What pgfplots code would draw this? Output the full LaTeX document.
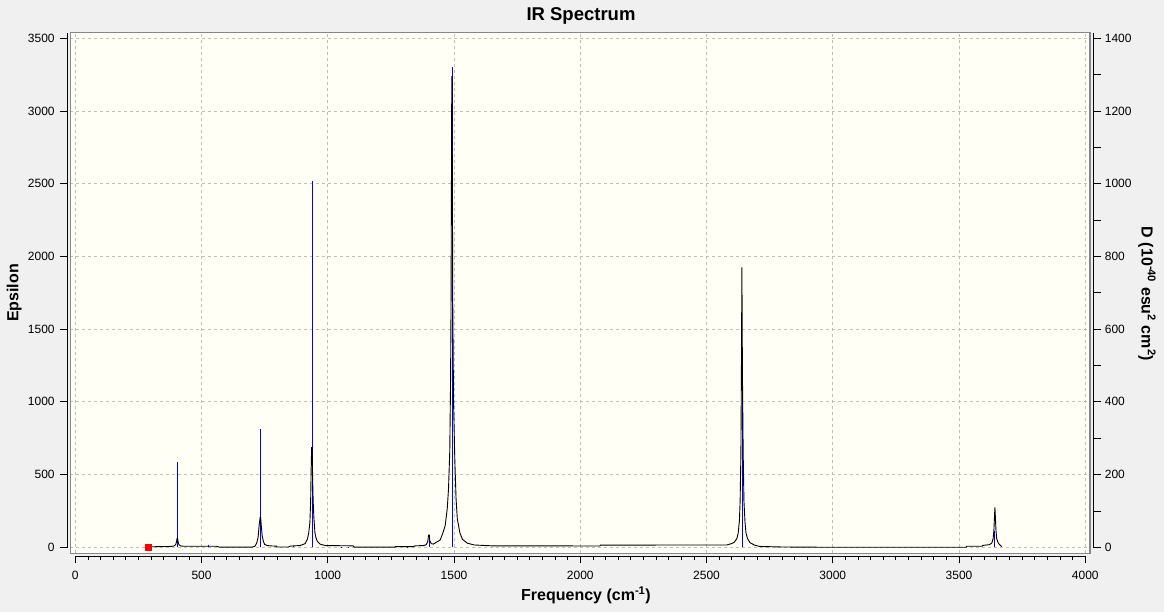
\documentclass[border=0pt]{standalone}
\usepackage{pgfplots}
\pgfplotsset{compat=1.18}
\usepackage{fontspec}
\setmainfont{Liberation Sans}
\definecolor{winbg}{RGB}{240,240,240}
\definecolor{plotbg}{RGB}{255,255,245}
\definecolor{framegray}{RGB}{130,135,145}
\definecolor{gridgray}{RGB}{190,190,190}
\definecolor{stickblue}{RGB}{0,0,255}
\begin{document}
\begin{tikzpicture}
\fill[winbg] (0,0) rectangle (1164pt,612pt);
% ---- frame, grid and sticks (D units, right scale) ----
\begin{axis}[
  at={(70.3pt,58.7pt)}, anchor=south west, scale only axis,
  width=1019.7pt, height=520.6pt,
  xmin=-19.8, xmax=4018.6, ymin=-16.5, ymax=1415.4,
  xtick={0,500,...,4000}, ytick={0,200,...,1400},
  xticklabels={}, yticklabels={},
  tick style={draw=none},
  grid=major,
  major grid style={gridgray, line width=0.9pt, dash pattern=on 3pt off 3pt},
  axis background/.style={fill=plotbg},
  axis line style={framegray, line width=1.5pt},
]
\addplot[ycomb, stickblue, line width=1pt, mark=none] coordinates {
(404,234) (527,6) (734,325) (863,3) (939,1007) (1055,2) (1081,2)
(1315,2) (1401,34) (1493,1322) (2641,445) (3642,45)
};
\end{axis}
% ---- spectrum (Epsilon units, left scale) ----
\begin{axis}[
  at={(70.3pt,58.7pt)}, anchor=south west, scale only axis,
  width=1019.7pt, height=520.6pt,
  xmin=-19.8, xmax=4018.6, ymin=-41.26, ymax=3538.5,
  hide axis, clip=false,
]
\addplot[black, line width=0.9pt, mark=none] coordinates {
(290,3) (340,5) (380,6) (390,9) (395,14) (398,20) (401,40) (403,62) (405,62)
(407,40) (410,20) (413,14) (418,9) (430,7) (560,7) (570,1) (700,1) (710,6)
(714,14) (719,32) (724,70) (728,150) (732,206) (734,206) (736,160) (740,80)
(745,40) (750,20) (760,12) (780,9) (797,8) (800,2) (845,2) (850,8) (890,12)
(910,25) (919,55) (924,93) (929,170) (932,316) (934,534) (936,685) (938,685)
(940,470) (942,316) (945,200) (949,100) (954,60) (959,40) (969,22) (990,12)
(1100,10) (1105,1) (1266,1) (1268,5) (1340,5) (1345,10) (1380,12) (1390,18)
(1396,40) (1399,84) (1402,84) (1404,45) (1410,25) (1418,22) (1430,35) (1445,50)
(1455,95) (1465,150) (1473,265) (1478,400) (1483,660) (1486,1115) (1488,1650)
(1490,2705) (1491,3236) (1492,3236) (1493,2705) (1495,1650) (1498,1000)
(1503,600) (1508,330) (1513,194) (1523,100) (1533,55) (1553,28) (1580,16)
(1650,10) (2077,9) (2080,15) (2580,16) (2600,26) (2610,35) (2620,60) (2625,95)
(2630,180) (2633,320) (2636,650) (2638,1200) (2640,1925) (2642,1200) (2645,650)
(2648,320) (2652,180) (2656,100) (2662,60) (2672,32) (2690,15) (2710,6)
(2800,2) (3000,0) (3528,0) (3530,7) (3592,7) (3594,13) (3620,18) (3630,30)
(3635,60) (3638,120) (3640,200) (3642,275) (3644,200) (3646,120) (3649,60)
(3655,30) (3662,15) (3669,5)
};
\addplot[only marks, mark=square*, mark size=3pt, red] coordinates {(289,0)};
\end{axis}
% ---- bottom axis line ----
\begin{axis}[
  at={(75.3pt,55.7pt)}, anchor=south west, scale only axis,
  width=1010pt, height=10pt,
  xmin=0, xmax=4000, ymin=0, ymax=1,
  axis x line=bottom, axis y line=none,
  axis line style={-, black, line width=1pt},
  xtick={0,500,...,4000}, minor x tick num=9,
  tick align=outside, major tick length=7pt, minor tick length=4pt,
  tick style={black, line width=0.8pt},
  scaled ticks=false,
  /pgf/number format/1000 sep={}, /pgf/number format/assume math mode=true,
  tick label style={font=\fontsize{12}{14}\selectfont},
  xticklabel style={yshift=-4pt},
]
\addplot[draw=none] coordinates {(0,0)};
\end{axis}
% ---- left axis line ----
\begin{axis}[
  at={(67.7pt,64.7pt)}, anchor=south west, scale only axis,
  width=10pt, height=514.6pt,
  xmin=0, xmax=1, ymin=0, ymax=3538.5,
  axis y line=left, axis x line=none,
  axis line style={-, black, line width=1pt},
  ytick={0,500,...,3500},
  tick align=outside, major tick length=8pt,
  tick style={black, line width=0.8pt},
  scaled ticks=false,
  /pgf/number format/1000 sep={}, /pgf/number format/assume math mode=true,
  tick label style={font=\fontsize{12}{14}\selectfont},
  yticklabel style={xshift=-1.5pt},
]
\addplot[draw=none] coordinates {(0,0)};
\end{axis}
% ---- right axis line ----
\begin{axis}[
  at={(1093.3pt,64.7pt)}, anchor=south east, scale only axis,
  width=10pt, height=514.6pt,
  xmin=0, xmax=1, ymin=0, ymax=1415.4,
  axis y line=right, axis x line=none,
  axis line style={-, black, line width=1pt},
  ytick={0,200,...,1400}, minor ytick={100,300,...,1300},
  tick align=outside, major tick length=8pt, minor tick length=8pt,
  tick style={black, line width=0.8pt},
  scaled ticks=false,
  /pgf/number format/1000 sep={}, /pgf/number format/assume math mode=true,
  tick label style={font=\fontsize{12}{14}\selectfont},
]
\addplot[draw=none] coordinates {(0,0)};
\end{axis}
% ---- titles ----
\node[font=\bfseries\fontsize{18.5}{20}\selectfont, anchor=base] at (581pt,591.5pt) {IR Spectrum};
\node[font=\bfseries\fontsize{16}{18}\selectfont, anchor=base] at (586pt,11pt) {Frequency (cm\textsuperscript{-1})};
\node[font=\bfseries\fontsize{16}{18}\selectfont, rotate=90, anchor=base] at (18.3pt,319pt) {Epsilon};
\node[font=\bfseries\fontsize{16}{18}\selectfont, rotate=-90, anchor=base] at (1141.7pt,318pt) {D (10\textsuperscript{-40} esu\textsuperscript{2} cm\textsuperscript{2})};
\pgfresetboundingbox
\useasboundingbox (0,0) rectangle (1164pt,612pt);
\end{tikzpicture}
\end{document}
